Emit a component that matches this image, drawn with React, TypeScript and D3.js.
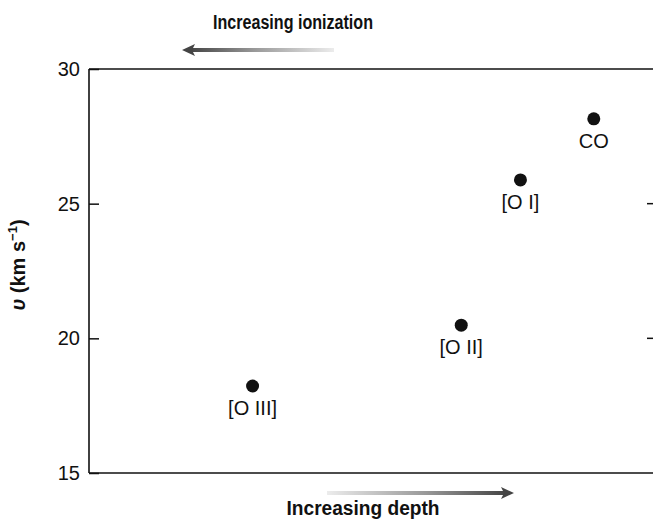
import React, { useEffect, useRef } from 'react';
import * as d3 from 'd3';

// emission line / molecule, ordered by depth into the cloud
const species = ['[O III]', '[O II]', '[O I]', 'CO'];
const depth = [2.9, 6.6, 7.65, 8.95];
const velocity = [18.23, 20.49, 25.88, 28.15];
const yTicks = [15, 20, 25, 30];
const rightTicks = [20, 25];

const width = 653;
const height = 526;
const margin = { top: 69, right: 0, bottom: 53, left: 89 };

export default function App() {
  const axisRef = useRef<SVGGElement>(null);

  const x = d3.scaleLinear().domain([0, 10]).range([margin.left, width - margin.right]);
  const y = d3.scaleLinear().domain([15, 30]).range([height - margin.bottom, margin.top]);

  useEffect(() => {
    const g = d3.select(axisRef.current);
    g.selectAll('*').remove();
    g.attr('transform', `translate(${margin.left},0)`)
      .call(d3.axisLeft(y).tickValues(yTicks).tickSizeInner(-10).tickSizeOuter(0).tickPadding(9));
    g.select('.domain').remove();
    g.selectAll('line').attr('stroke', '#111').attr('stroke-width', 1.5);
    g.selectAll('text')
      .attr('font-family', 'Arial, "Liberation Sans", Helvetica, sans-serif')
      .attr('font-size', 20)
      .attr('fill', '#111');
  }, []);

  const x0 = x.range()[0];
  const x1 = x.range()[1];
  const yTop = y(30);
  const yBot = y(15);
  const font = 'Arial, "Liberation Sans", Helvetica, sans-serif';

  return (
    <svg width={width} height={height} style={{ position: 'absolute', left: 0, top: 0, background: '#fff' }}>
      <defs>
        <linearGradient id="fadeLeft" gradientUnits="userSpaceOnUse" x1={190} x2={334} y1={0} y2={0}>
          <stop offset="0" stopColor="#444" />
          <stop offset="0.45" stopColor="#999" />
          <stop offset="1" stopColor="#ececec" />
        </linearGradient>
        <linearGradient id="fadeRight" gradientUnits="userSpaceOnUse" x1={327} x2={506} y1={0} y2={0}>
          <stop offset="0" stopColor="#ececec" />
          <stop offset="0.55" stopColor="#999" />
          <stop offset="1" stopColor="#444" />
        </linearGradient>
      </defs>

      {/* frame */}
      <line x1={x0} x2={x1} y1={yTop} y2={yTop} stroke="#111" strokeWidth={1.6} />
      <line x1={x0} x2={x1} y1={yBot} y2={yBot} stroke="#111" strokeWidth={1.6} />
      <line x1={x0} x2={x0} y1={yTop} y2={yBot} stroke="#111" strokeWidth={1.6} />
      {rightTicks.map(t => (
        <line key={t} x1={x1 - 6} x2={x1} y1={y(t)} y2={y(t)} stroke="#111" strokeWidth={1.5} />
      ))}
      <g ref={axisRef} />

      {/* y label */}
      <text
        transform={`translate(25,${(yTop + yBot) / 2 - 6}) rotate(-90)`}
        textAnchor="middle"
        fontFamily={font}
        fontWeight="bold"
        fontSize={20}
        fill="#111"
      >
        <tspan fontStyle="italic">υ</tspan> (km s<tspan dy={-8} fontSize={13}>−1</tspan><tspan dy={8}>)</tspan>
      </text>

      {/* top annotation */}
      <text x={293} y={29} textAnchor="middle" fontFamily={font} fontWeight="bold" fontSize={20}
        textLength={160} lengthAdjust="spacingAndGlyphs" fill="#111">
        Increasing ionization
      </text>
      <rect x={190} y={48} width={144} height={4} fill="url(#fadeLeft)" />
      <path d="M182,50 L195,44 L192,50 L195,56 Z" fill="#444" />

      {/* bottom annotation */}
      <text x={363} y={515} textAnchor="middle" fontFamily={font} fontWeight="bold" fontSize={20}
        textLength={153} lengthAdjust="spacingAndGlyphs" fill="#111">
        Increasing depth
      </text>
      <rect x={327} y={491} width={179} height={4} fill="url(#fadeRight)" />
      <path d="M514,493 L501,487 L504,493 L501,499 Z" fill="#444" />

      {/* points */}
      {species.map((s, i) => (
        <g key={s}>
          <circle cx={x(depth[i])} cy={y(velocity[i])} r={6.5} fill="#111" />
          <text x={x(depth[i])} y={y(velocity[i]) + 29} textAnchor="middle" fontFamily={font}
            fontSize={20} fill="#111">
            {s}
          </text>
        </g>
      ))}
    </svg>
  );
}
